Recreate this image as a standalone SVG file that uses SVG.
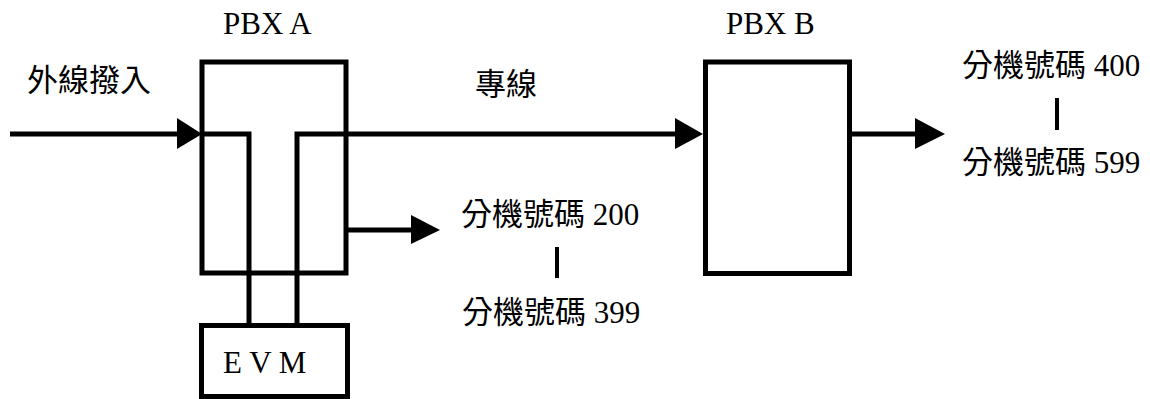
<svg xmlns="http://www.w3.org/2000/svg" width="1150" height="399" viewBox="0 0 1150 399">
<style>
.t{font-family:"Liberation Serif","Noto Sans CJK TC",serif;font-size:31px;fill:#000}
.box{fill:#fff;stroke:#000;stroke-width:5}
.ln{fill:none;stroke:#000;stroke-width:5;stroke-linejoin:miter;stroke-linecap:butt}
.ah{fill:#000}
</style>
<rect width="1150" height="399" fill="#fff"/>
<g id="pbxA">
<rect class="box" x="202" y="62" width="144" height="211"/>
<text class="t" x="223" y="34">PBX A</text>
</g>
<g id="pbxB">
<rect class="box" x="705.5" y="62" width="144" height="211.5"/>
<text class="t" x="726" y="34">PBX B</text>
</g>
<g id="evm">
<rect class="box" x="201.5" y="325.5" width="146" height="71"/>
<text class="t" x="223" y="373" xml:space="preserve">E V M</text>
</g>
<g id="labels">
<text class="t" x="27" y="91">外線撥入</text>
<text class="t" x="475" y="95">專線</text>
<text class="t" x="461" y="225">分機號碼 200</text>
<text class="t" x="462" y="323">分機號碼 399</text>
<rect x="555" y="247" width="4" height="31" fill="#000"/>
<text class="t" x="962" y="76">分機號碼 400</text>
<text class="t" x="962" y="173">分機號碼 599</text>
<rect x="1055" y="98" width="4" height="32" fill="#000"/>
</g>
<g id="connectors">
<line class="ln" x1="10" y1="134" x2="180" y2="134"/>
<polygon class="ah" points="177,118 202,134 177,149"/>
<polyline class="ln" points="202,134 249,134 249,325"/>
<polyline class="ln" points="297,325 297,134 676,134"/>
<polygon class="ah" points="675,118 703,134 675,149"/>
<line class="ln" x1="346" y1="230" x2="413" y2="230"/>
<polygon class="ah" points="411,215 440,230 411,244"/>
<line class="ln" x1="849" y1="134" x2="917" y2="134"/>
<polygon class="ah" points="915,118 945,134 915,149"/>
</g>
</svg>
